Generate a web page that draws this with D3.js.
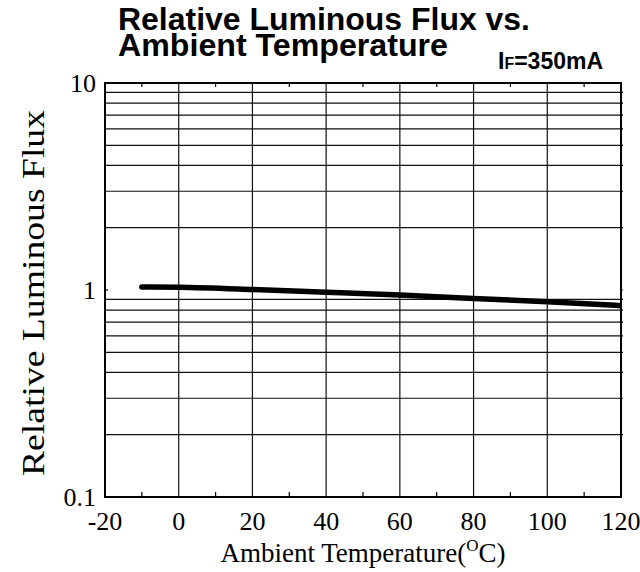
<!DOCTYPE html>
<html>
<head>
<meta charset="utf-8">
<script src="https://cdn.jsdelivr.net/npm/d3@7"></script>
<style>
  body { margin: 0; background: #fff; }
  svg { display: block; }
</style>
</head>
<body>
<div id="chart"></div>
<script>
// data
const temps = [-10, 0, 20, 40, 60, 80, 100, 120];
const flux = [1.035, 1.03, 1.005, 0.975, 0.945, 0.91, 0.878, 0.84];
const xTicks = [-20, 0, 20, 40, 60, 80, 100, 120];
const xMinor = [-10, 10, 30, 50, 70, 90, 110];
const yTicks = [0.1, 1, 10];
const yTickLabels = ["0.1", "1", "10"];
const yGrid = [0.2, 0.3, 0.4, 0.5, 0.6, 0.7, 0.8, 0.9, 2, 3, 4, 5, 6, 7, 8, 9];

const width = 640, height = 572;
const margins = { top: 83, bottom: 75, left: 105, right: 19 };

const xScale = d3.scaleLinear()
    .domain([-20, 120])
    .range([margins.left, width - margins.right]);
const yScale = d3.scaleLog()
    .domain([0.1, 10])
    .range([height - margins.bottom, margins.top]);

const svg = d3.select("#chart")
    .append("svg")
    .attr("width", width)
    .attr("height", height);

const serif = "'Liberation Serif', 'Times New Roman', serif";
const sans = "'Liberation Sans', Arial, sans-serif";

// title (two lines in one text)
const title = svg.append("text")
    .attr("font-family", sans).attr("font-weight", "bold").attr("font-size", 31);
title.append("tspan")
    .attr("x", 118).attr("y", 30)
    .attr("textLength", 412).attr("lengthAdjust", "spacingAndGlyphs")
    .text("Relative Luminous Flux vs.");
title.append("tspan")
    .attr("x", 118).attr("y", 56)
    .attr("textLength", 330).attr("lengthAdjust", "spacingAndGlyphs")
    .text("Ambient Temperature");

const cond = svg.append("text")
    .attr("x", 498).attr("y", 69)
    .attr("font-family", sans).attr("font-weight", "bold").attr("font-size", 23);
cond.append("tspan").text("I");
cond.append("tspan").attr("font-size", 16).text("F");
cond.append("tspan").text("=350mA");

// grid
const y0 = yScale.range()[0], y1 = yScale.range()[1];
const x0 = xScale.range()[0], x1 = xScale.range()[1];

svg.append("g")
    .selectAll("line")
    .data(yGrid)
    .join("line")
    .attr("x1", x0).attr("x2", x1)
    .attr("y1", d => yScale(d)).attr("y2", d => yScale(d))
    .attr("stroke", "#111").attr("stroke-width", 1.2);

svg.append("g")
    .selectAll("line")
    .data(xTicks.slice(1, -1))
    .join("line")
    .attr("x1", d => xScale(d)).attr("x2", d => xScale(d))
    .attr("y1", y0).attr("y2", y1)
    .attr("stroke", "#111").attr("stroke-width", 1.2);

// minor ticks top and bottom
svg.append("g")
    .selectAll("line")
    .data(xMinor)
    .join("line")
    .attr("x1", d => xScale(d)).attr("x2", d => xScale(d))
    .attr("y1", y0).attr("y2", y0 - 5)
    .attr("stroke", "#000").attr("stroke-width", 1.2);
svg.append("g")
    .selectAll("line")
    .data(xMinor)
    .join("line")
    .attr("x1", d => xScale(d)).attr("x2", d => xScale(d))
    .attr("y1", y1).attr("y2", y1 + 4)
    .attr("stroke", "#000").attr("stroke-width", 1.2);

// small outward ticks on right
svg.append("g")
    .selectAll("line")
    .data(yGrid.concat([1]))
    .join("line")
    .attr("x1", x1).attr("x2", x1 + 2)
    .attr("y1", d => yScale(d)).attr("y2", d => yScale(d))
    .attr("stroke", "#000").attr("stroke-width", 1.2);
// tick at 1 on the left
svg.append("line")
    .attr("x1", x0).attr("x2", x0 + 3)
    .attr("y1", yScale(1)).attr("y2", yScale(1))
    .attr("stroke", "#000").attr("stroke-width", 1.2);

// frame
svg.append("rect")
    .attr("x", x0).attr("y", y1)
    .attr("width", x1 - x0).attr("height", y0 - y1)
    .attr("fill", "none").attr("stroke", "#000").attr("stroke-width", 2);

// curve
svg.append("clipPath").attr("id", "clip")
    .append("rect")
    .attr("x", x0).attr("y", y1)
    .attr("width", x1 - x0).attr("height", y0 - y1);

const line = d3.line()
    .x((d, i) => xScale(temps[i]))
    .y(d => yScale(d))
    .curve(d3.curveMonotoneX);

svg.append("path")
    .datum(flux)
    .attr("clip-path", "url(#clip)")
    .attr("d", line)
    .attr("fill", "none")
    .attr("stroke", "#000")
    .attr("stroke-width", 5.5)
    .attr("stroke-linecap", "round");

// tick labels
svg.append("g")
    .selectAll("text")
    .data(xTicks)
    .join("text")
    .attr("x", d => xScale(d))
    .attr("y", y0 + 33)
    .attr("text-anchor", "middle")
    .attr("font-family", serif).attr("font-size", 26)
    .text(d => d);

svg.append("g")
    .selectAll("text")
    .data(yTicks)
    .join("text")
    .attr("x", x0 - 9)
    .attr("y", d => yScale(d) + 8.5)
    .attr("text-anchor", "end")
    .attr("font-family", serif).attr("font-size", 26)
    .text((d, i) => yTickLabels[i]);

// axis titles
const xt = svg.append("text")
    .attr("x", (x0 + x1) / 2)
    .attr("y", 562)
    .attr("text-anchor", "middle")
    .attr("font-family", serif).attr("font-size", 27);
xt.append("tspan").text("Ambient Temperature(");
xt.append("tspan").attr("font-size", 17).attr("dy", -11).text("O");
xt.append("tspan").attr("dy", 11).text("C)");

svg.append("text")
    .attr("transform", `translate(44, 293) rotate(-90)`)
    .attr("text-anchor", "middle")
    .attr("font-family", serif).attr("font-size", 32)
    .attr("textLength", 366).attr("lengthAdjust", "spacingAndGlyphs")
    .text("Relative Luminous Flux");
</script>
</body>
</html>
